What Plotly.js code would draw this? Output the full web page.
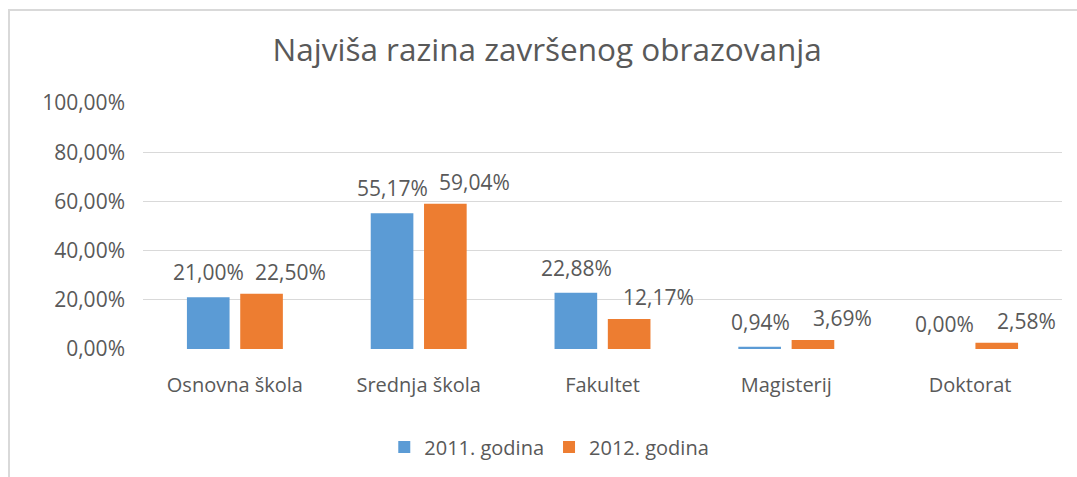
<!DOCTYPE html>
<html>
<head>
<meta charset="utf-8">
<script src="https://cdn.plot.ly/plotly-3.0.1.min.js"></script>
<style>
  html, body { margin: 0; padding: 0; background: #fff; }
  #wrap { position: relative; width: 1077px; height: 477px; overflow: hidden; }
  #frame { position: absolute; left: 8px; top: 9px; width: 1080px; height: 480px;
           border-left: 2px solid #d9d9d9; border-top: 2px solid #d9d9d9; pointer-events: none; z-index: 5; }
  #chart { position: absolute; left: 0; top: 0; width: 1077px; height: 477px; }
</style>
</head>
<body>
<div id="wrap">
  <div id="chart"></div>
  <div id="frame"></div>
</div>
<script>
const categories = ["Osnovna škola", "Srednja škola", "Fakultet", "Magisterij", "Doktorat"];
const seriesNames = ["2011. godina", "2012. godina"];
const values2011 = [21.00, 55.17, 22.88, 0.94, 0.00];
const values2012 = [22.50, 59.04, 12.17, 3.69, 2.58];
const yTickVals = [0, 20, 40, 60, 80, 100];

const textColor = "#595959";
const fontFamily = "'Open Sans', 'Liberation Sans', sans-serif";
const colors = ["#5B9BD5", "#ED7D31"];

function fmt(v) { return v.toFixed(2).replace(".", ",") + "%"; }

const traces = [values2011, values2012].map((vals, i) => ({
  type: "bar",
  name: seriesNames[i],
  x: categories,
  y: vals,
  marker: { color: colors[i] },
  hoverinfo: "none"
}));

const annotations = [];
const labelStyle = [
  { xshift: -26, yshift: 25 },
  { xshift: 56, yshift: 22 }
];
[values2011, values2012].forEach((vals, i) => {
  vals.forEach((v, j) => {
    annotations.push({
      x: categories[j], y: v, xref: "x", yref: "y",
      text: fmt(v), showarrow: false,
      xshift: labelStyle[i].xshift, yshift: labelStyle[i].yshift,
      yanchor: "middle", xanchor: "center",
      font: { family: fontFamily, size: 21, color: textColor }
    });
  });
});

const layout = {
  width: 1077, height: 477,
  margin: { l: 143, r: 15, t: 103, b: 128 },
  paper_bgcolor: "#ffffff", plot_bgcolor: "#ffffff",
  separators: ",.",
  font: { family: fontFamily, color: textColor, size: 20 },
  title: {
    text: "Najviša razina završenog obrazovanja",
    font: { family: fontFamily, size: 31.5, color: textColor },
    x: 0.508, xanchor: "center", xref: "container",
    y: 1 - 50 / 477, yanchor: "middle", yref: "container"
  },
  barmode: "group",
  bargap: 0.42,
  bargroupgap: 0.2,
  xaxis: {
    type: "category",
    showgrid: false, zeroline: false, showline: false, ticks: "",
    ticklabelstandoff: 22,
    tickfont: { family: fontFamily, size: 20, color: textColor },
    fixedrange: true
  },
  yaxis: {
    range: [0, 100],
    tickmode: "array",
    tickvals: yTickVals,
    ticktext: yTickVals.map(fmt),
    showgrid: true, gridcolor: "#d9d9d9", gridwidth: 1,
    zeroline: false, showline: false, ticks: "",
    ticklabelstandoff: 17,
    tickfont: { family: fontFamily, size: 21, color: textColor },
    fixedrange: true
  },
  showlegend: true,
  legend: {
    orientation: "h",
    xref: "container", yref: "container",
    x: 0.51, xanchor: "center",
    y: 1 - 447 / 477, yanchor: "middle",
    font: { family: fontFamily, size: 20, color: textColor },
    itemclick: false, itemdoubleclick: false
  },
  annotations: annotations
};

Plotly.newPlot("chart", traces, layout, { displayModeBar: false, staticPlot: true });
</script>
</body>
</html>
